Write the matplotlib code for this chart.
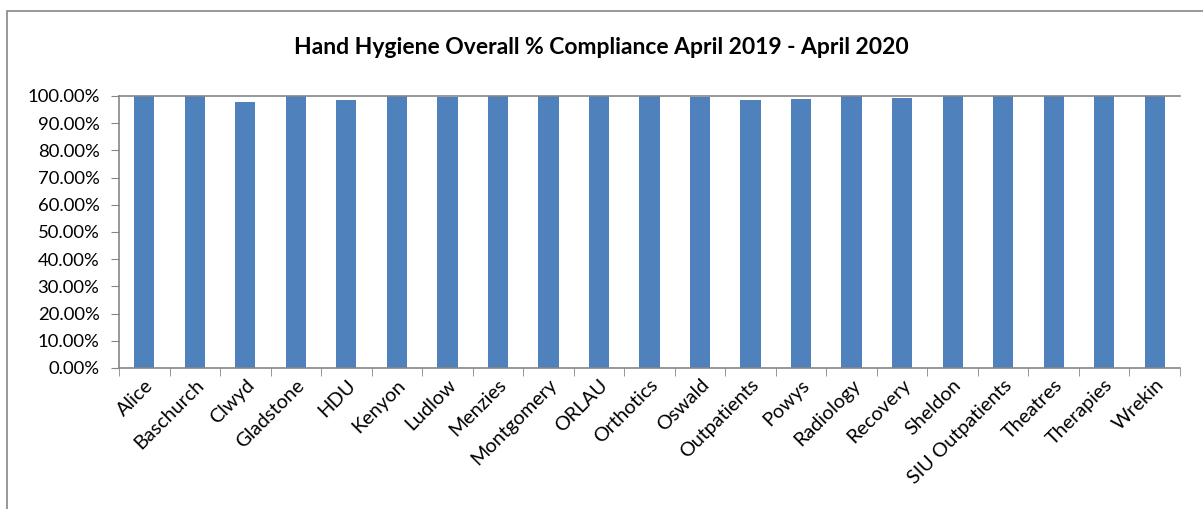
import matplotlib.pyplot as plt
from matplotlib.patches import Rectangle
from matplotlib.ticker import FuncFormatter, FixedLocator

plt.rcParams['font.family'] = ['Lato', 'DejaVu Sans']

wards = ['Alice', 'Baschurch', 'Clwyd', 'Gladstone', 'HDU', 'Kenyon', 'Ludlow',
         'Menzies', 'Montgomery', 'ORLAU', 'Orthotics', 'Oswald', 'Outpatients',
         'Powys', 'Radiology', 'Recovery', 'Sheldon', 'SIU Outpatients',
         'Theatres', 'Therapies', 'Wrekin']
compliance = [100.0, 100.0, 97.8, 100.0, 98.5, 100.0, 99.8,
              100.0, 100.0, 100.0, 100.0, 99.7, 98.5,
              98.8, 100.0, 99.3, 100.0, 100.0,
              100.0, 100.0, 100.0]

fig = plt.figure(figsize=(12.03, 5.09), dpi=100)
ax = fig.add_axes([119 / 1203, 1 - 368 / 509, (1180 - 119) / 1203, (368 - 96) / 509])

# outer chart border
fig.patches.append(Rectangle((7 / 1203, -0.1), 1.2, 1 - 11 / 509 + 0.1,
                             transform=fig.transFigure, fill=False,
                             edgecolor='#868686', linewidth=1.2))

x = range(len(wards))
ax.bar(x, compliance, width=0.4, color='#4F81BD')

ax.set_xlim(-0.5, len(wards) - 0.5)
ax.set_ylim(0, 100)
ax.set_yticks(range(0, 101, 10))
ax.yaxis.set_major_formatter(FuncFormatter(lambda v, p: f"{v:.2f}%"))
ax.tick_params(axis='y', direction='out', length=6, color='#868686',
               labelsize=13.3, pad=8)

ax.set_xticks(list(x))
ax.set_xticklabels(wards, rotation=45, ha='right', rotation_mode='anchor',
                   fontsize=14.2)
ax.tick_params(axis='x', length=0, pad=6)
ax.xaxis.set_minor_locator(FixedLocator([i - 0.5 for i in range(len(wards) + 1)]))
ax.tick_params(axis='x', which='minor', direction='out', length=6, color='#868686')

for s in ['left', 'bottom']:
    ax.spines[s].set_color('#868686')
    ax.spines[s].set_linewidth(1.2)
ax.spines['right'].set_visible(False)
ax.spines['top'].set_color('#868686')
ax.spines['top'].set_linewidth(1.2)

fig.text(0.5, 1 - 48 / 509, 'Hand Hygiene Overall % Compliance April 2019 - April 2020',
         ha='center', va='center', fontsize=16.5, fontweight='bold')

fig.savefig('out.png', dpi=100)
